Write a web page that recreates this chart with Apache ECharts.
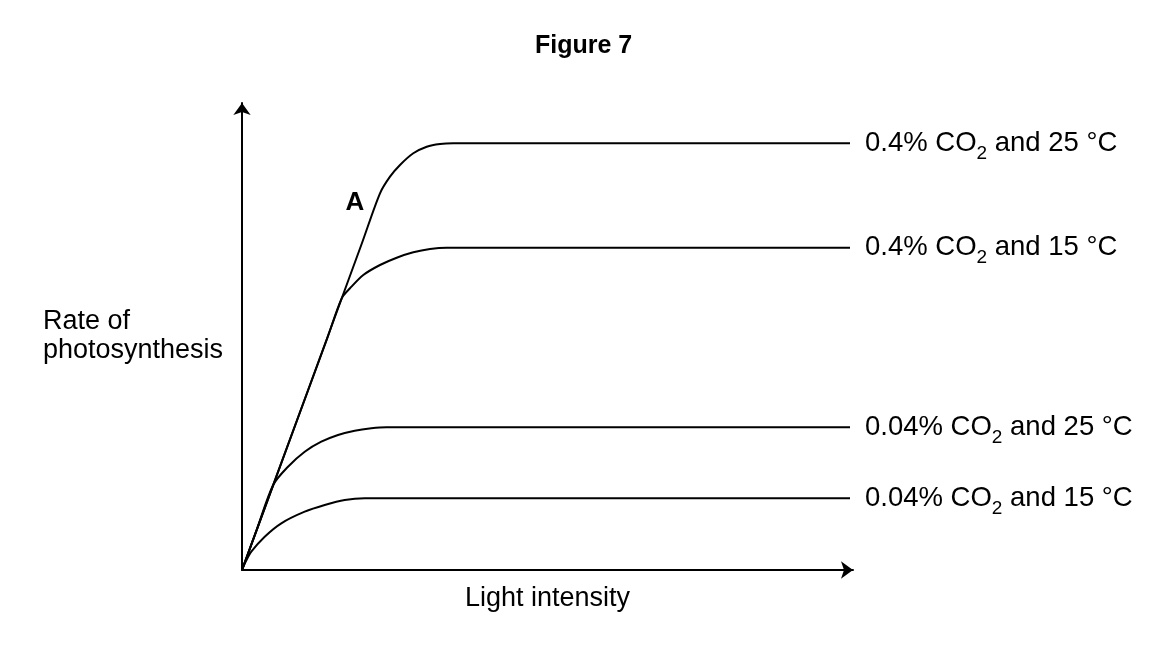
<!DOCTYPE html>
<html>
<head>
<meta charset="utf-8">
<title>Figure 7</title>
<script src="https://cdn.jsdelivr.net/npm/echarts@6/dist/echarts.min.js"></script>
<style>
  html, body {margin: 0; padding: 0; background: #fff;}
  #chart {width: 1150px; height: 650px;}
</style>
</head>
<body>
<div id="chart"></div>
<script>
(function(){
  'use strict';

  /*
    values (arbitrary units: light intensity / rate)
  */
  var co2High25X = [0, 65, 120, 138, 148, 158, 171.3, 184.7, 198, 211.3, 240, 608],
      co2High25Y = [0, 177, 327, 376.7, 393.3, 405, 416.7, 423.3, 426, 426.7, 426.7, 426.7],
      co2High15X = [0, 50, 85, 99.7, 108, 121.3, 138, 154.7, 171.3, 188, 204.7, 235, 608],
      co2High15Y = [0, 136, 231, 271.7, 281.7, 295, 305, 312.3, 317.7, 321, 322.3, 322.3, 322.3],
      co2Low25X  = [0, 15, 31.2, 46, 62.7, 79.3, 96, 112.7, 129.3, 144.3, 175, 608],
      co2Low25Y  = [0, 41, 85, 103.3, 118.3, 128.3, 135, 139.3, 141.7, 142.7, 142.7, 142.7],
      co2Low15X  = [0, 3, 9.3, 22.7, 39.3, 62.7, 82.7, 102.7, 122.7, 150, 608],
      co2Low15Y  = [0, 7, 18.3, 33.3, 46.7, 58.3, 65, 70, 71.7, 71.7, 71.7];

  var seriesNames = [
    '0.4% CO{s|2} and 25 °C',
    '0.4% CO{s|2} and 15 °C',
    '0.04% CO{s|2} and 25 °C',
    '0.04% CO{s|2} and 15 °C'
  ];

  var labelA = [113, 367];

  var xMax = 611, yMax = 467;

  var font = 'Liberation Sans, Arial, sans-serif';

  var pairs = function(xs, ys){
    return xs.map(function(x, i){ return [x, ys[i]]; });
  };

  var makeSeries = function(name, data){
    return {
      name: name,
      type: 'line',
      data: data,
      smooth: 0.3,
      symbol: 'none',
      silent: true,
      lineStyle: {color: '#000', width: 2},
      endLabel: {
        show: true,
        distance: 15,
        formatter: name,
        color: '#000',
        fontFamily: font,
        fontSize: 27.5,
        rich: {
          s: {fontFamily: font, fontSize: 19, color: '#000', padding: [20, 0, 0, 0]}
        }
      }
    };
  };

  var series = [
    makeSeries(seriesNames[0], pairs(co2High25X, co2High25Y)),
    makeSeries(seriesNames[1], pairs(co2High15X, co2High15Y)),
    makeSeries(seriesNames[2], pairs(co2Low25X, co2Low25Y)),
    makeSeries(seriesNames[3], pairs(co2Low15X, co2Low15Y))
  ];

  // label "A" on the steep part of the top curve
  series[0].markPoint = {
    symbol: 'circle',
    symbolSize: 1,
    itemStyle: {color: 'transparent'},
    label: {
      show: true, position: 'inside', formatter: 'A',
      color: '#000', fontFamily: font, fontSize: 26, fontWeight: 'bold'
    },
    data: [{coord: labelA}]
  };

  var option = {
    backgroundColor: '#fff',
    animation: false,
    title: {
      text: 'Figure 7',
      left: 530,
      top: 29,
      textStyle: {fontFamily: font, fontSize: 25, fontWeight: 'bold', color: '#000'}
    },
    grid: {left: 242, right: 297, top: 103, bottom: 80},
    xAxis: {
      type: 'value',
      min: 0,
      max: xMax,
      name: 'Light intensity',
      nameLocation: 'middle',
      nameGap: 15,
      nameTextStyle: {fontFamily: font, fontSize: 27, color: '#000', verticalAlign: 'top'},
      axisLine: {
        lineStyle: {color: '#000', width: 2},
        symbol: ['none', 'arrow'],
        symbolSize: [13, 12]
      },
      axisTick: {show: false},
      axisLabel: {show: false},
      splitLine: {show: false}
    },
    yAxis: {
      type: 'value',
      min: 0,
      max: yMax,
      name: 'Rate of\nphotosynthesis',
      nameLocation: 'middle',
      nameRotate: 0,
      nameGap: 199,
      nameTextStyle: {fontFamily: font, fontSize: 27, color: '#000', align: 'left', lineHeight: 29, padding: [3, 0, 0, 0]},
      axisLine: {
        lineStyle: {color: '#000', width: 2},
        symbol: ['none', 'arrow'],
        symbolSize: [13, 12]
      },
      axisTick: {show: false},
      axisLabel: {show: false},
      splitLine: {show: false}
    },
    series: series
  };

  echarts.init(document.getElementById('chart')).setOption(option);
})();
</script>
</body>
</html>
